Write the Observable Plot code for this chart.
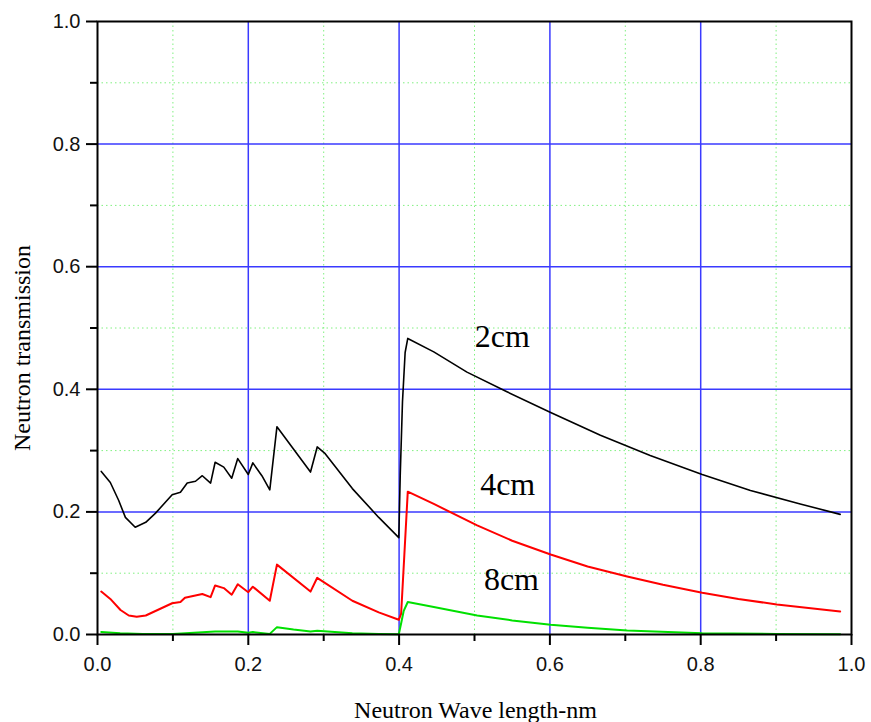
<!DOCTYPE html>
<html>
<head>
<meta charset="utf-8">
<script src="https://cdn.jsdelivr.net/npm/d3@7"></script>
<script src="https://cdn.jsdelivr.net/npm/@observablehq/plot@0.6"></script>
<style>
  html, body { margin: 0; padding: 0; background: #fff; }
  #chart svg { display: block; }
</style>
</head>
<body>
<div id="chart"></div>
<script>
// 2 cm sample
const wl2cm = [0.005,0.017,0.028,0.037,0.05,0.064,0.077,0.099,0.11,0.119,0.13,0.139,0.15,0.156,0.1675,0.178,0.186,0.2,0.206,0.218,0.2285,0.238,0.2825,0.2914,0.302,0.338,0.373,0.3996,0.4015,0.4045,0.408,0.4115,0.446,0.49,0.543,0.601,0.667,0.733,0.802,0.866,0.932,0.985];
const tr2cm = [0.266,0.248,0.219,0.191,0.175,0.183,0.198,0.228,0.232,0.247,0.250,0.259,0.247,0.281,0.273,0.255,0.287,0.261,0.280,0.259,0.236,0.339,0.265,0.306,0.295,0.238,0.191,0.158,0.26,0.38,0.46,0.483,0.461,0.428,0.396,0.362,0.325,0.292,0.261,0.235,0.213,0.196];
// 4 cm sample
const wl4cm = [0.005,0.017,0.0305,0.0415,0.052,0.064,0.099,0.11,0.116,0.139,0.15,0.156,0.1675,0.178,0.186,0.2,0.206,0.2285,0.238,0.2825,0.2914,0.338,0.373,0.3996,0.4027,0.407,0.4115,0.446,0.5035,0.55,0.601,0.65,0.7025,0.75,0.802,0.85,0.901,0.985];
const tr4cm = [0.070,0.058,0.040,0.031,0.029,0.031,0.051,0.053,0.060,0.066,0.061,0.080,0.0757,0.065,0.082,0.069,0.078,0.055,0.114,0.070,0.0925,0.055,0.036,0.024,0.034,0.131,0.233,0.213,0.178,0.153,0.1305,0.111,0.0946,0.081,0.068,0.058,0.049,0.0375];
// 8 cm sample
const wl8cm = [0.005,0.03,0.06,0.1,0.156,0.186,0.2,0.206,0.2285,0.238,0.26,0.2825,0.2914,0.338,0.373,0.3996,0.403,0.406,0.4115,0.446,0.5035,0.55,0.601,0.65,0.7025,0.802,0.9,0.985];
const tr8cm = [0.004,0.002,0.001,0.001,0.005,0.005,0.003,0.004,0.001,0.012,0.008,0.005,0.006,0.002,0.001,0.0003,0.02,0.038,0.053,0.045,0.031,0.023,0.016,0.011,0.0065,0.002,0.001,0.0005];

const seriesNames = ["2cm", "4cm", "8cm"];
const seriesColors = ["#000000", "#ff0000", "#00e000"];
const seriesWidths = [1.6, 2, 2];
const labelX = [0.537, 0.544, 0.549];
const labelY = [0.486, 0.244, 0.090];

const majorTicks = [0, 0.2, 0.4, 0.6, 0.8, 1.0];
const minorTicks = [0.1, 0.3, 0.5, 0.7, 0.9];
const gridMajor = [0.2, 0.4, 0.6, 0.8];

const xTitle = "Neutron Wave length-nm";
const yTitle = "Neutron transmission";

const toRows = (xs, ys, s) => xs.map((x, i) => ({x, y: ys[i], s}));
const seriesData = [[wl2cm, tr2cm], [wl4cm, tr4cm], [wl8cm, tr8cm]];
const labels = seriesNames.map((s, i) => ({s, x: labelX[i], y: labelY[i]}));

const fmt = d3.format(".1f");
const sans = "Liberation Sans, Arial, sans-serif";
const serif = "Liberation Serif, Times New Roman, serif";

const chart = Plot.plot({
  width: 871,
  height: 722,
  marginLeft: 97,
  marginRight: 20,
  marginTop: 21,
  marginBottom: 88,
  x: {domain: [0, 1]},
  y: {domain: [0, 1]},
  style: {background: "#fff"},
  marks: [
    Plot.ruleX(minorTicks, {stroke: "#80f080", strokeDasharray: "1.5,3", strokeWidth: 1}),
    Plot.ruleY(minorTicks, {stroke: "#80f080", strokeDasharray: "1.5,3", strokeWidth: 1}),
    Plot.ruleX(gridMajor, {stroke: "#3a3aff", strokeWidth: 1.5}),
    Plot.ruleY(gridMajor, {stroke: "#3a3aff", strokeWidth: 1.5}),
    ...seriesData.map(([xs, ys], i) =>
      Plot.line(toRows(xs, ys, seriesNames[i]), {x: "x", y: "y", stroke: seriesColors[i], strokeWidth: seriesWidths[i]})
    ),
    Plot.text(labels, {x: "x", y: "y", text: "s", fontSize: 32, fontFamily: serif, fill: "#000"}),
    Plot.frame({stroke: "#000", strokeWidth: 2}),
    Plot.axisX(majorTicks, {tickSize: 11, tickPadding: 11, tickFormat: fmt, fontSize: 20, fontFamily: sans, label: null, strokeWidth: 2, fill: "#111"}),
    Plot.axisX(minorTicks, {tickSize: 7, tickFormat: () => "", label: null, strokeWidth: 2}),
    Plot.axisY(majorTicks, {tickSize: 11, tickPadding: 6, tickFormat: fmt, fontSize: 20, fontFamily: sans, label: null, strokeWidth: 2, fill: "#111"}),
    Plot.axisY(minorTicks, {tickSize: 7, tickFormat: () => "", label: null, strokeWidth: 2}),
    Plot.text([yTitle], {frameAnchor: "left", textAnchor: "middle", lineAnchor: "middle", dx: -75, dy: 20, rotate: -90, text: d => d, fontSize: 24, fontFamily: serif, fill: "#000"}),
    Plot.text([xTitle], {frameAnchor: "bottom", textAnchor: "middle", lineAnchor: "middle", dx: 1, dy: 76, text: d => d, fontSize: 24, fontFamily: serif, fill: "#000"})
  ]
});
document.getElementById("chart").appendChild(chart);
</script>
</body>
</html>
